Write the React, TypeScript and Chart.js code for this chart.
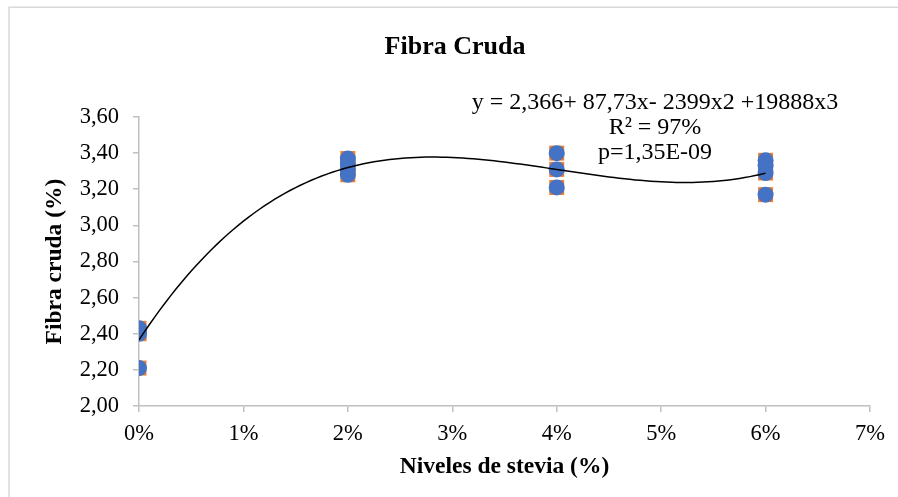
import React, { useEffect, useRef } from "react";
import { Chart, registerables } from "chart.js";

Chart.register(...registerables);

const title = "Fibra Cruda";
const xAxisTitle = "Niveles de stevia (%)";
const yAxisTitle = "Fibra cruda (%)";
const equationLines = ["y = 2,366+ 87,73x- 2399x2 +19888x3", "R² = 97%", "p=1,35E-09"];

// stevia levels (fraction) and measured crude fibre (%)
const levels = [0, 0, 0, 0, 0.02, 0.02, 0.02, 0.02, 0.04, 0.04, 0.04, 0.06, 0.06, 0.06, 0.06];
const fibre = [2.43, 2.41, 2.40, 2.21, 3.37, 3.34, 3.31, 3.28, 3.40, 3.31, 3.21, 3.36, 3.33, 3.29, 3.17];

// polynomial trendline coefficients printed on the chart (c0 + c1 x + c2 x^2 + c3 x^3)
const trendCoef = [2.366, 87.73, -2399, 19888];
const trendRange = [0, 0.06];

const xTicks = ["0%", "1%", "2%", "3%", "4%", "5%", "6%", "7%"];
const yTicks = ["2,00", "2,20", "2,40", "2,60", "2,80", "3,00", "3,20", "3,40", "3,60"];

const FONT = "'Liberation Serif', 'Times New Roman', serif";

export default function App() {
  const ref = useRef<HTMLCanvasElement>(null);
  useEffect(() => {
    const canvas = ref.current!;
    const steps = 120;
    const trend = [] as { x: number; y: number }[];
    for (let i = 0; i <= steps; i++) {
      const x = trendRange[0] + ((trendRange[1] - trendRange[0]) * i) / steps;
      const y = trendCoef.reduce((s, c, k) => s + c * Math.pow(x, k), 0);
      trend.push({ x, y });
    }
    const pts = levels.map((x, i) => ({ x, y: fibre[i] }));

    const textPlugin = {
      id: "texts",
      beforeDraw(chart: any) {
        const ctx = chart.ctx;
        ctx.save();
        ctx.fillStyle = "#fff";
        ctx.fillRect(0, 0, chart.width, chart.height);
        ctx.strokeStyle = "#d9d9d9";
        ctx.lineWidth = 1.5;
        ctx.strokeRect(9, 7.25, chart.width + 10, chart.height + 10);
        ctx.restore();
      },
      afterDraw(chart: any) {
        const ctx = chart.ctx;
        const ca = chart.chartArea;
        ctx.save();
        ctx.fillStyle = "#000";
        ctx.textAlign = "center";
        ctx.textBaseline = "middle";
        ctx.font = `bold 26px ${FONT}`;
        ctx.fillText(title, 455, 47);
        ctx.font = `24px ${FONT}`;
        equationLines.forEach((l, i) => ctx.fillText(l, 655, 103 + i * 25));
        ctx.font = `bold 23.5px ${FONT}`;
        ctx.fillText(xAxisTitle, (ca.left + ca.right) / 2, 467);
        ctx.translate(55, (ca.top + ca.bottom) / 2);
        ctx.rotate(-Math.PI / 2);
        ctx.fillText(yAxisTitle, 0, 0);
        ctx.restore();
      },
    };

    const chart = new Chart(canvas, {
      type: "scatter",
      data: {
        datasets: [
          {
            type: "line",
            data: trend,
            borderColor: "#000",
            borderWidth: 1.5,
            pointRadius: 0,
            fill: false,
            tension: 0,
          } as any,
          {
            data: pts,
            backgroundColor: "#4472C4",
            borderColor: "#4472C4",
            borderWidth: 0,
            pointRadius: 8,
            pointStyle: "circle",
          },
          {
            data: pts,
            backgroundColor: "#ED7D31",
            borderColor: "#ED7D31",
            borderWidth: 0,
            pointRadius: 10.6,
            pointStyle: "rect",
          },
        ],
      },
      options: {
        responsive: false,
        animation: false,
        devicePixelRatio: 1,
        layout: { padding: { top: 117, right: 28, left: 0, bottom: 0 } },
        plugins: { legend: { display: false }, tooltip: { enabled: false }, title: { display: false } },
        scales: {
          x: {
            type: "linear",
            min: 0,
            max: 0.07,
            afterFit: (s: any) => { s.height = 91; },
            afterBuildTicks: (s: any) => {
              s.ticks = xTicks.map((_, i) => ({ value: i / 100 }));
            },
            ticks: {
              callback: (_v: any, i: number) => xTicks[i],
              font: { family: FONT, size: 22.5 },
              color: "#000",
              padding: 9,
              maxRotation: 0,
            },
            grid: { display: true, drawOnChartArea: false, drawTicks: true, tickLength: 6, color: "#c0c0c0", lineWidth: 1.5 },
            border: { color: "#c0c0c0", width: 1.5 },
          },
          y: {
            type: "linear",
            min: 2,
            max: 3.6,
            afterFit: (s: any) => { s.width = 139; },
            afterBuildTicks: (s: any) => {
              s.ticks = yTicks.map((_, i) => ({ value: 2 + i * 0.2 }));
            },
            ticks: {
              callback: (_v: any, i: number) => yTicks[i],
              font: { family: FONT, size: 22.5 },
              color: "#000",
              padding: 14,
            },
            grid: { display: true, drawOnChartArea: false, drawTicks: true, tickLength: 6, color: "#c0c0c0", lineWidth: 1.5 },
            border: { color: "#c0c0c0", width: 1.5 },
          },
        },
      },
      plugins: [textPlugin],
    });
    return () => chart.destroy();
  }, []);
  return (
    <div style={{ position: "fixed", left: 0, top: 0, width: 898, height: 497, background: "#fff" }}>
      <canvas ref={ref} width={898} height={497} style={{ display: "block" }} />
    </div>
  );
}
